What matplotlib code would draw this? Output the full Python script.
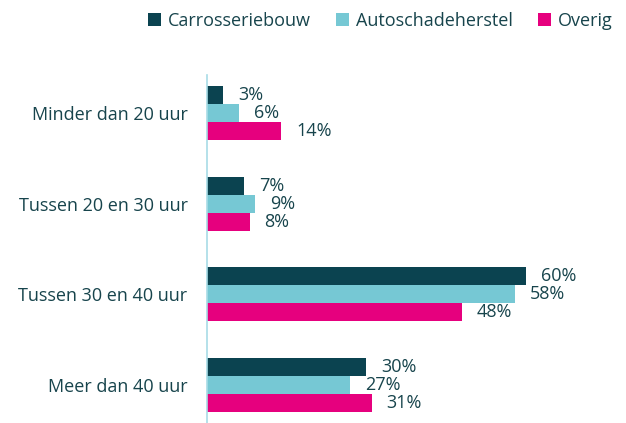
import numpy as np
import matplotlib.pyplot as plt

categories = ["Minder dan 20 uur", "Tussen 20 en 30 uur", "Tussen 30 en 40 uur", "Meer dan 40 uur"]
series = ["Carrosseriebouw", "Autoschadeherstel", "Overig"]
carrosserie = [3, 7, 60, 30]
autoschade = [6, 9, 58, 27]
overig = [14, 8, 48, 31]

colors = ["#0b4350", "#76c8d4", "#e6007e"]
text_color = "#17444c"

plt.rcParams['font.family'] = ['Open Sans', 'DejaVu Sans']

fig = plt.figure(figsize=(6.26, 4.23), dpi=100)
ax = fig.add_axes([0.3307, 0.0, 0.594, 0.823])

y = np.arange(len(categories))
h = 0.198
for i, (vals, name) in enumerate(zip([carrosserie, autoschade, overig], series)):
    pos = y + (i - 1) * h
    ax.barh(pos, vals, height=h, color=colors[i], label=name)
    for p, v in zip(pos, vals):
        ax.text(v + 2.8, p, f"{v}%", va='center', ha='left', fontsize=13, color=text_color)

ax.set_xlim(0, 70)
ax.set_ylim(3.418, -0.418)
ax.set_yticks(y)
ax.set_yticklabels(categories, fontsize=13, color=text_color)
ax.tick_params(axis='y', length=0, pad=14)
ax.set_xticks([])
for s in ['top', 'right', 'bottom']:
    ax.spines[s].set_visible(False)
ax.spines['left'].set_color('#a8dce6')
ax.spines['left'].set_linewidth(1.2)

fig.legend(loc='upper right', bbox_to_anchor=(1.005, 1.01), ncol=3, frameon=False,
           fontsize=13, handlelength=0.7, handleheight=0.7, handletextpad=0.4,
           columnspacing=1.4, labelcolor=text_color)

fig.savefig("out.png", dpi=100)
